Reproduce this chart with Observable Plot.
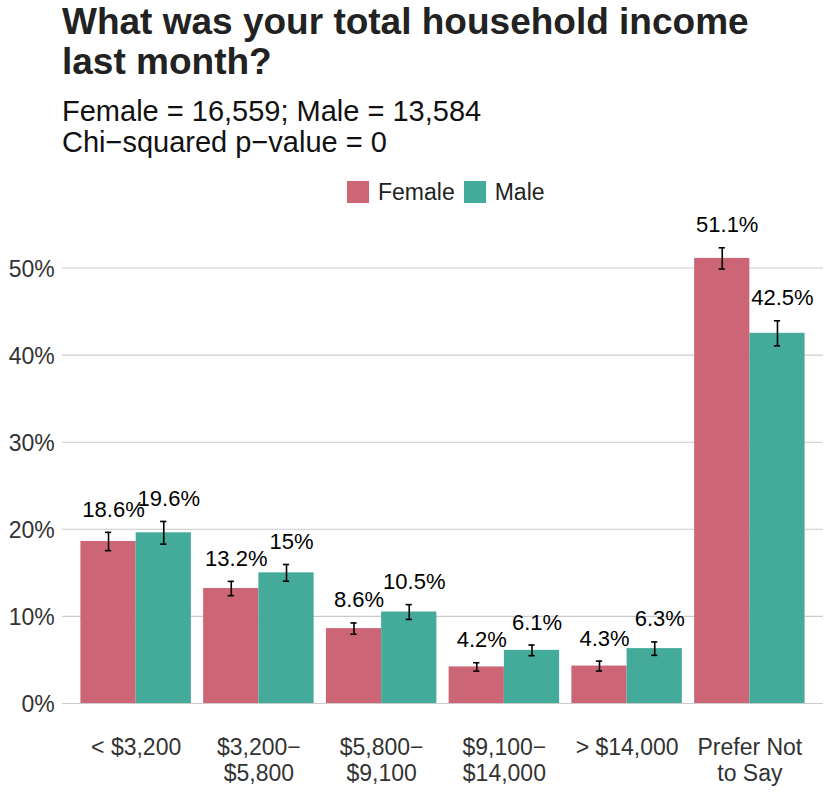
<!DOCTYPE html>
<html>
<head>
<meta charset="utf-8">
<script src="https://cdn.jsdelivr.net/npm/d3@7"></script>
<script src="https://cdn.jsdelivr.net/npm/@observablehq/plot@0.6"></script>
<style>
  html, body { margin: 0; padding: 0; background: #ffffff; }
  #wrap { position: relative; width: 830px; height: 805px; font-family: "Liberation Sans", Arial, Helvetica, sans-serif; }
  #title { position: absolute; left: 62px; top: 1.7px; font-size: 37px; line-height: 40.3px; font-weight: bold; color: #222222; white-space: nowrap; }
  #subtitle { position: absolute; left: 62px; top: 95.8px; font-size: 29px; line-height: 31.6px; color: #111111; white-space: nowrap; }
  #legend { position: absolute; left: 347px; top: 181px; display: flex; align-items: center; font-size: 23px; line-height: 22px; color: #222222; }
  #legend .sw { width: 22px; height: 22px; display: inline-block; }
  .layer { position: absolute; left: 0; top: 0; }
  .layer svg { overflow: visible; }
</style>
</head>
<body>
<div id="wrap">
  <div id="grid" class="layer"></div>
  <div id="chart" class="layer"></div>
  <div id="title">What was your total household income<br>last month?</div>
  <div id="subtitle">Female = 16,559; Male = 13,584<br>Chi−squared p−value = 0</div>
  <div id="legend"></div>
</div>
<script>
const categories = ["< $3,200", "$3,200−$5,800", "$5,800−$9,100", "$9,100−$14,000", "> $14,000", "Prefer Not to Say"];
const tickLabels = ["< $3,200", "$3,200−\n$5,800", "$5,800−\n$9,100", "$9,100−\n$14,000", "> $14,000", "Prefer Not\nto Say"];
const sexes = ["Female", "Male"];
const sexColors = ["#CC6677", "#44AA99"];
const femaleValues = [18.6, 13.2, 8.6, 4.2, 4.3, 51.1];
const maleValues = [19.6, 15, 10.5, 6.1, 6.3, 42.5];
const femaleErr = [1.05, 0.82, 0.65, 0.48, 0.57, 1.22];
const maleErr = [1.3, 0.96, 0.85, 0.61, 0.77, 1.44];
const yTicks = [0, 10, 20, 30, 40, 50];
const yDomain = [0, 56.6];

const data = categories.flatMap((c, i) => [
  {cat: c, sex: "Female", value: femaleValues[i], err: femaleErr[i]},
  {cat: c, sex: "Male", value: maleValues[i], err: maleErr[i]}
]);

// legend (HTML)
const legend = document.getElementById("legend");
sexes.forEach((s, i) => {
  const sw = document.createElement("span");
  sw.className = "sw";
  sw.style.background = sexColors[i];
  sw.style.marginLeft = i === 0 ? "0px" : "9px";
  const t = document.createElement("span");
  t.textContent = s;
  t.style.marginLeft = "9px";
  legend.append(sw, t);
});

const font = "Liberation Sans, Arial, Helvetica, sans-serif";
const frame = {width: 830, height: 805, marginLeft: 62, marginRight: 7, marginTop: 210, marginBottom: 102};

// background layer: y grid + y tick labels, spanning the full panel
const grid = Plot.plot({
  ...frame,
  style: {fontFamily: font, background: "transparent"},
  x: {axis: null},
  y: {domain: yDomain, axis: null},
  marks: [
    Plot.ruleY(yTicks, {y: d => d, stroke: "#cbcbcb", strokeWidth: 1.1}),
    Plot.text(yTicks, {y: d => d, text: d => d + "%", frameAnchor: "left", textAnchor: "end", dx: -7.7, dy: 1.5, fontSize: 23, fill: "#333333"})
  ]
});
document.getElementById("grid").append(grid);

// foreground layer: grouped bars
const chart = Plot.plot({
  ...frame,
  style: {fontFamily: font, background: "transparent"},
  fx: {domain: categories, paddingInner: 0.1, paddingOuter: 0.15, axis: null, label: null, round: false},
  x: {domain: sexes, padding: 0, axis: null, round: false},
  y: {domain: yDomain, axis: null},
  color: {domain: sexes, range: sexColors},
  marks: [
    Plot.barY(data, {fx: "cat", x: "sex", y: "value", fill: "sex"}),
    Plot.ruleX(data, {fx: "cat", x: "sex", y1: d => d.value - d.err, y2: d => d.value + d.err, stroke: "#000", strokeWidth: 1.6}),
    Plot.tickY(data, {fx: "cat", x: "sex", y: d => d.value - d.err, insetLeft: 24.5, insetRight: 24.5, stroke: "#000", strokeWidth: 1.6}),
    Plot.tickY(data, {fx: "cat", x: "sex", y: d => d.value + d.err, insetLeft: 24.5, insetRight: 24.5, stroke: "#000", strokeWidth: 1.6}),
    Plot.text(data, {fx: "cat", x: "sex", y: d => d.value + d.err, text: d => d.value + "%", dy: -22.5, dx: 5, fontSize: 22, fill: "#000"}),
    Plot.text(categories, {fx: d => d, text: (d, i) => tickLabels[i], frameAnchor: "bottom", lineAnchor: "top", dy: 33.7, fontSize: 23, lineHeight: 1.113, fill: "#333333"})
  ]
});
document.getElementById("chart").append(chart);
</script>
</body>
</html>
